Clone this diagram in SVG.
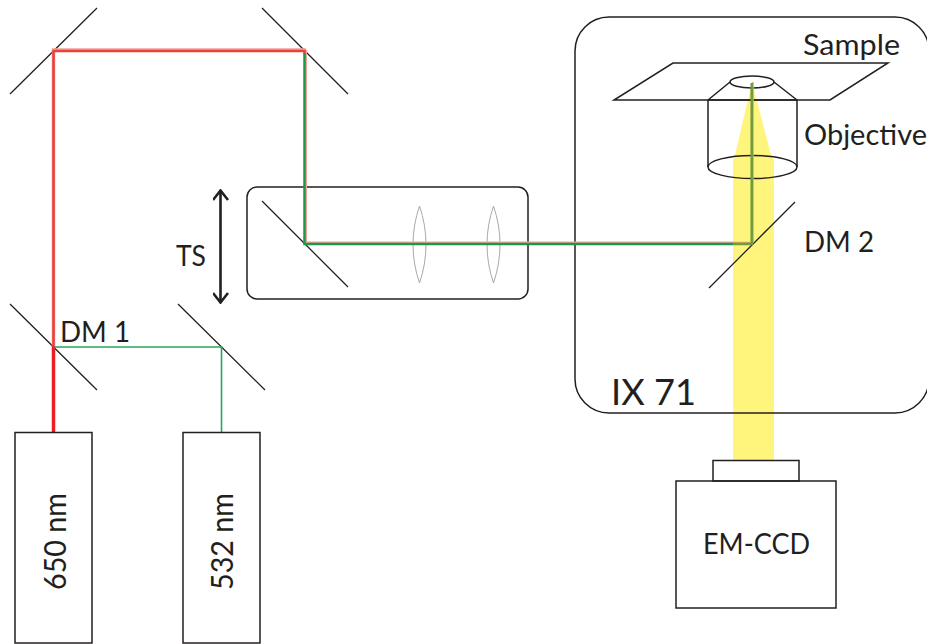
<svg xmlns="http://www.w3.org/2000/svg" width="927" height="644" viewBox="0 0 927 644">
<style>
.o{fill:none;stroke:#231f20;stroke-width:1.5}
.m{fill:none;stroke:#231f20;stroke-width:1.3}
.l{fill:none;stroke:#a8a8a8;stroke-width:1}
.b{fill:none;stroke-linejoin:miter}
text{font-family:"Lato","Open Sans","Liberation Sans",sans-serif;fill:#231f20;font-size:28.500px}
</style>
<defs>
<marker id="ah" viewBox="0 0 12 16" refX="11" refY="8" markerWidth="12" markerHeight="16" markerUnits="userSpaceOnUse" orient="auto-start-reverse"><path d="M1 0.500L10.500 8L1 15.500" fill="none" stroke="#231f20" stroke-width="2.600"/></marker>
</defs>
<rect width="927" height="644" fill="#fff"/>
<g id="beam-yellow"><path d="M752 82L771 155L774 160V460H733V160L735 155Z" fill="#fff57d"/></g>
<g id="microscope"><rect x="575" y="17" width="354" height="396" rx="34" class="o"/><text x="611" y="405" textLength="85" lengthAdjust="spacingAndGlyphs" style="font-size:37px">IX 71</text></g>
<g id="sample"><path d="M673 63H888L830 100H614Z" class="o"/><text x="803" y="55" textLength="97" lengthAdjust="spacingAndGlyphs">Sample</text></g>
<g id="objective"><ellipse cx="752" cy="82" rx="22" ry="6" class="o"/><path d="M730 82L708 100V167M774 82L797 100V167M708 100H797" class="o"/><ellipse cx="752.5" cy="167" rx="44.5" ry="11.500" class="o"/><text x="804" y="145" textLength="123" lengthAdjust="spacingAndGlyphs">Objective</text></g>
<g id="bench"><rect x="247" y="187" width="281" height="112" rx="10" class="o"/><path d="M419.500 206Q413 225 413 244.500Q413 264 419.500 283Q426 264 426 244.500Q426 225 419.500 206Z" class="l"/><path d="M493.500 206Q487 225 487 244.500Q487 264 493.500 283Q500 264 500 244.500Q500 225 493.500 206Z" class="l"/></g>
<g id="mirrors"><path d="M10 94L97 8M262 8L348 94M262 201L348 287M10 304L97 390M178 304L265 390M795 202L709 288" class="m"/></g>
<g id="connectors">
<path d="M306 50V242.500H733" class="b" stroke="#f5a09a" stroke-width="2"/>
<path d="M733 242.500H753V82" class="b" stroke="#d9a860" stroke-width="1.500"/>
<path d="M53.500 346V50H306" class="b" stroke="#f5a09a" stroke-width="3.500"/>
<path d="M53.500 346V51H304.500V54" class="b" stroke="#e8403a" stroke-width="2.500"/>
<path d="M304.500 53V244H733" class="b" stroke="#1a9850" stroke-width="2.500"/>
<path d="M733 244H751.700V83" class="b" stroke="#6f9c3e" stroke-width="2.500"/>
<path d="M53.500 432V346" class="b" stroke="#ed1c24" stroke-width="3.500"/>
<path d="M53.500 347H221.500V432" class="b" stroke="#2aa55a" stroke-width="1.600"/>
<path d="M220.500 303V190" fill="none" stroke="#231f20" stroke-width="2.600" marker-start="url(#ah)" marker-end="url(#ah)"/>
</g>
<g id="labels"><text x="176" y="266" textLength="30" lengthAdjust="spacingAndGlyphs">TS</text><text x="60" y="342" textLength="70" lengthAdjust="spacingAndGlyphs">DM 1</text><text x="804" y="252" textLength="70" lengthAdjust="spacingAndGlyphs">DM 2</text></g>
<g id="laser-650"><rect x="15" y="432.500" width="77" height="210.500" class="o"/><text transform="translate(66 590) rotate(-90)" textLength="97" lengthAdjust="spacingAndGlyphs" style="font-size:31px">650 nm</text></g>
<g id="laser-532"><rect x="183" y="432.500" width="77" height="210.500" class="o"/><text transform="translate(233 590) rotate(-90)" textLength="97" lengthAdjust="spacingAndGlyphs" style="font-size:31px">532 nm</text></g>
<g id="camera"><rect x="713" y="460.500" width="86" height="20.500" class="o"/><rect x="676" y="481" width="160" height="127" class="o"/><text x="703" y="554" textLength="107" lengthAdjust="spacingAndGlyphs">EM-CCD</text></g>
</svg>
